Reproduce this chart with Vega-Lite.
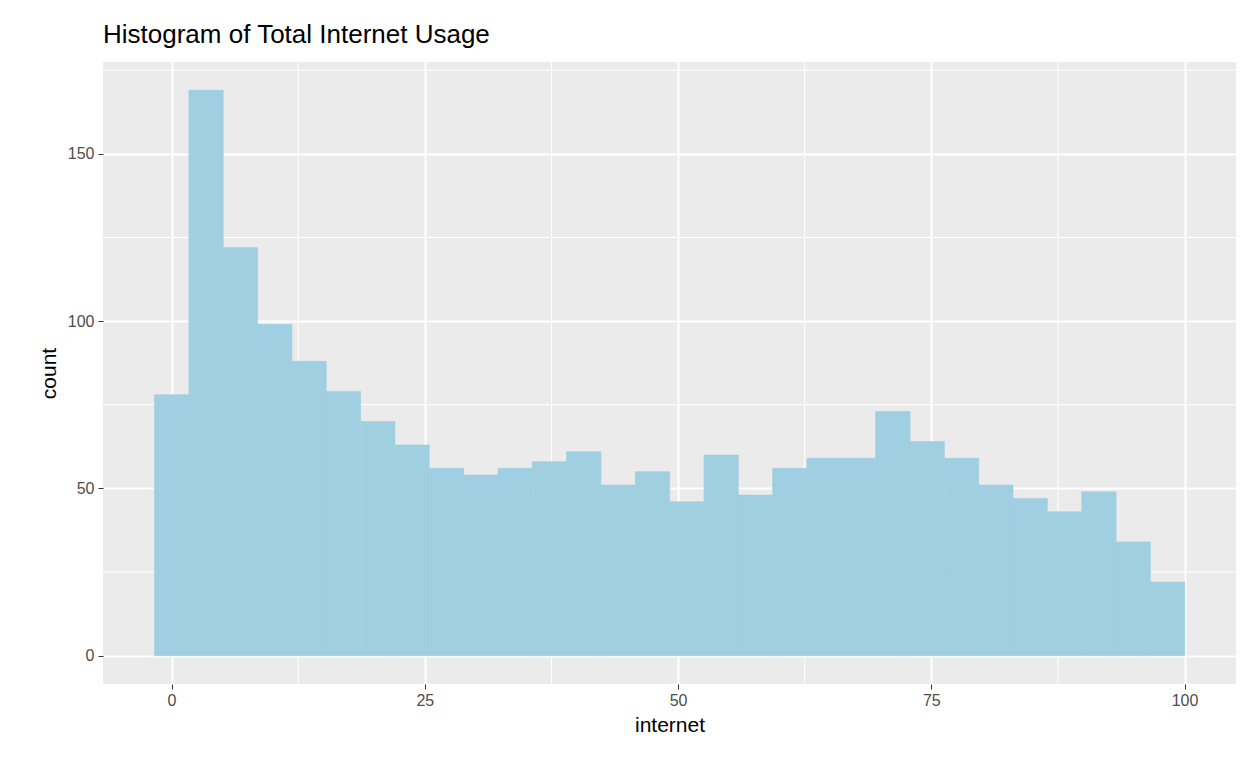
{
  "$schema": "https://vega.github.io/schema/vega-lite/v6.json",
  "width": 1133,
  "height": 622,
  "autosize": "none",
  "padding": {"left": 103, "top": 62, "right": 12, "bottom": 84},
  "background": "white",
  "title": {
    "text": "Histogram of Total Internet Usage",
    "anchor": "start",
    "frame": "group",
    "font": "Liberation Sans",
    "fontSize": 26,
    "fontWeight": "normal",
    "color": "black",
    "offset": 14
  },
  "config": {
    "view": {"fill": "#EBEBEB", "stroke": null},
    "axis": {
      "labelFont": "Liberation Sans",
      "titleFont": "Liberation Sans",
      "labelFontSize": 16,
      "labelColor": "#4D4D4D",
      "titleFontSize": 21,
      "titleFontWeight": "normal",
      "titleColor": "black",
      "domain": false,
      "tickColor": "#333333",
      "tickSize": 5,
      "tickWidth": 1,
      "gridColor": "white",
      "gridWidth": 2
    }
  },
  "layer": [
    {
      "data": {"values": [{"v": 12.5}, {"v": 37.5}, {"v": 62.5}, {"v": 87.5}]},
      "mark": {"type": "rule", "color": "white", "strokeWidth": 1},
      "encoding": {
        "x": {"field": "v", "type": "quantitative", "scale": {"domain": [-6.77, 105.08], "nice": false, "zero": false}}
      }
    },
    {
      "data": {"values": [{"v": 25}, {"v": 75}, {"v": 125}, {"v": 175}]},
      "mark": {"type": "rule", "color": "white", "strokeWidth": 1},
      "encoding": {
        "y": {"field": "v", "type": "quantitative", "scale": {"domain": [-8.45, 177.45], "nice": false, "zero": false}}
      }
    },
    {
      "data": {
        "values": [
          {"bin_start": -1.68, "count": 78}, {"bin_start": 1.71, "count": 169},
          {"bin_start": 5.10, "count": 122}, {"bin_start": 8.49, "count": 99},
          {"bin_start": 11.88, "count": 88}, {"bin_start": 15.27, "count": 79},
          {"bin_start": 18.66, "count": 70}, {"bin_start": 22.05, "count": 63},
          {"bin_start": 25.44, "count": 56}, {"bin_start": 28.83, "count": 54},
          {"bin_start": 32.22, "count": 56}, {"bin_start": 35.61, "count": 58},
          {"bin_start": 39.00, "count": 61}, {"bin_start": 42.39, "count": 51},
          {"bin_start": 45.78, "count": 55}, {"bin_start": 49.17, "count": 46},
          {"bin_start": 52.56, "count": 60}, {"bin_start": 55.95, "count": 48},
          {"bin_start": 59.34, "count": 56}, {"bin_start": 62.73, "count": 59},
          {"bin_start": 66.12, "count": 59}, {"bin_start": 69.51, "count": 73},
          {"bin_start": 72.90, "count": 64}, {"bin_start": 76.29, "count": 59},
          {"bin_start": 79.68, "count": 51}, {"bin_start": 83.07, "count": 47},
          {"bin_start": 86.46, "count": 43}, {"bin_start": 89.85, "count": 49},
          {"bin_start": 93.24, "count": 34}, {"bin_start": 96.63, "count": 22}
        ]
      },
      "transform": [{"calculate": "datum.bin_start + 3.39", "as": "bin_end"}],
      "mark": {"type": "bar", "color": "#9FCFE0", "stroke": "#9FCFE0", "strokeWidth": 0.6, "binSpacing": 0},
      "encoding": {
        "x": {
          "field": "bin_start", "type": "quantitative",
          "scale": {"domain": [-6.77, 105.08], "nice": false, "zero": false},
          "axis": {"values": [0, 25, 50, 75, 100], "title": "internet", "labelPadding": 3, "titlePadding": 6}
        },
        "x2": {"field": "bin_end"},
        "y": {
          "field": "count", "type": "quantitative",
          "scale": {"domain": [-8.45, 177.45], "nice": false, "zero": false},
          "axis": {"values": [0, 50, 100, 150], "title": "count", "labelPadding": 4, "titlePadding": 8}
        },
        "y2": {"datum": 0}
      }
    }
  ]
}
